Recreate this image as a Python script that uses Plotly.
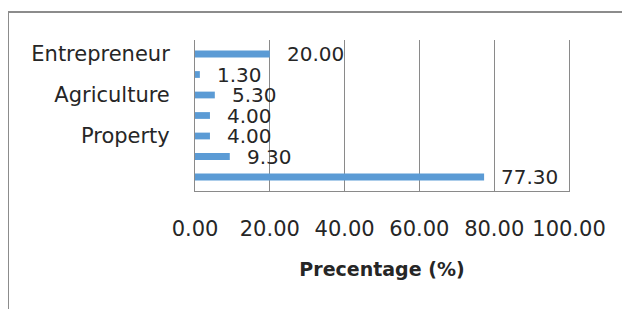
import plotly.graph_objects as go

categories = ["c1", "c2", "c3", "c4", "c5", "c6", "c7"]
tick_labels = ["Entrepreneur", "", "Agriculture", "", "Property", "", ""]
values = [20.00, 1.30, 5.30, 4.00, 4.00, 9.30, 77.30]
x_ticks = [0, 20, 40, 60, 80, 100]
x_tick_labels = ["0.00", "20.00", "40.00", "60.00", "80.00", "100.00"]

FONT = "DejaVu Sans"
GRID = "#8a8a8a"

fig = go.Figure()
fig.add_trace(go.Bar(
    x=values, y=categories, orientation="h",
    marker=dict(color="#5B9BD5", line=dict(width=0)),
    width=0.33, hoverinfo="skip",
))

for v, c in zip(values, categories):
    fig.add_annotation(
        x=v, y=c, text=f"{v:.2f}", showarrow=False,
        xanchor="left", yanchor="middle", xshift=15, yshift=0,
        font=dict(family=FONT, size=20, color="#262626"),
    )

# outer chart border
fig.add_shape(type="rect", xref="paper", yref="paper",
              x0=-0.5, x1=2.0, y0=-2.0, y1=1.185,
              line=dict(color="#8c8c8c", width=2), fillcolor="rgba(0,0,0,0)",
              layer="below")

fig.update_layout(
    width=622, height=301,
    margin=dict(l=187, r=61, t=32, b=118),
    paper_bgcolor="white", plot_bgcolor="white",
    showlegend=False,
    xaxis=dict(
        range=[0, 100], tickvals=x_ticks, ticktext=x_tick_labels,
        showgrid=True, gridcolor=GRID, gridwidth=1,
        showline=True, linecolor=GRID, linewidth=1,
        zeroline=False, ticks="", ticklabelstandoff=19,
        tickfont=dict(family=FONT, size=21, color="#262626"),
        title=dict(text="<b>Precentage (%)</b>", standoff=22,
                   font=dict(family=FONT, size=19, color="#262626")),
    ),
    yaxis=dict(
        categoryorder="array", categoryarray=categories,
        tickvals=categories, ticktext=tick_labels,
        autorange="reversed",
        showline=True, linecolor=GRID, linewidth=1, mirror=True,
        showgrid=False, zeroline=False, ticks="", ticklabelstandoff=20,
        tickfont=dict(family=FONT, size=21, color="#262626"),
    ),
)

fig.write_html("out.html")
